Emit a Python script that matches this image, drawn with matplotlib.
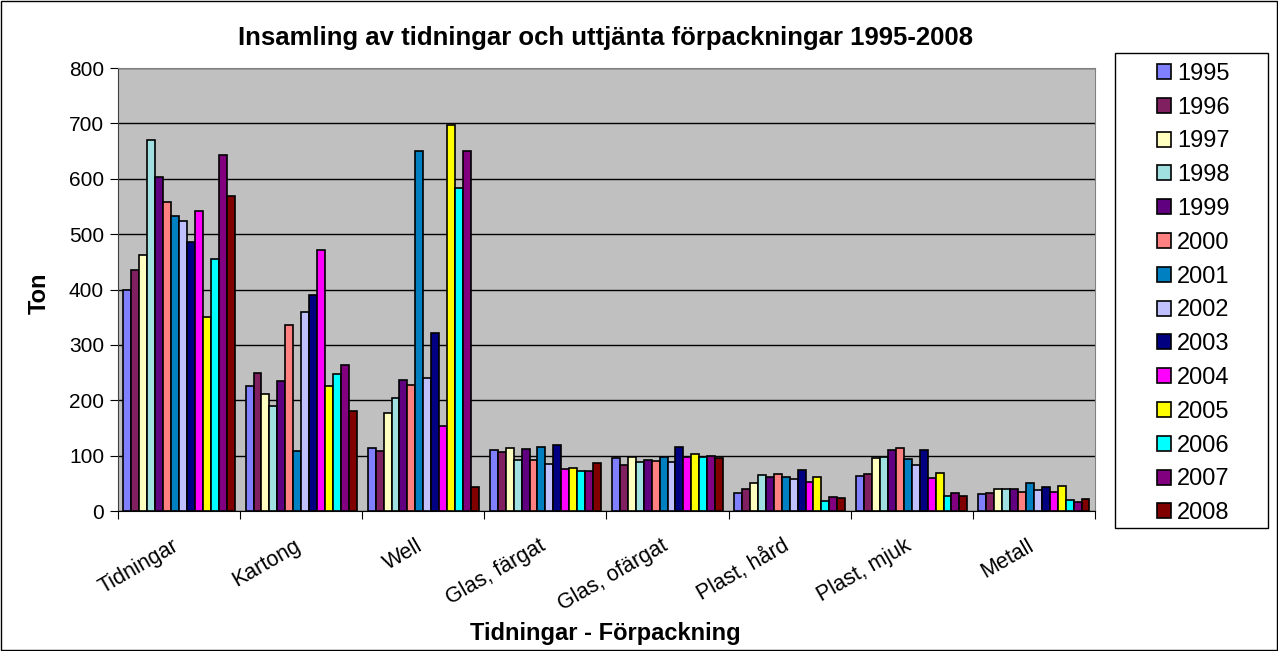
import matplotlib.pyplot as plt
import matplotlib.transforms as mtransforms
import numpy as np
from matplotlib.patches import Rectangle

plt.rcParams['font.family'] = ['Liberation Sans', 'DejaVu Sans']

categories = ['Tidningar', 'Kartong', 'Well', 'Glas, färgat', 'Glas, ofärgat',
              'Plast, hård', 'Plast, mjuk', 'Metall']
years = ['1995', '1996', '1997', '1998', '1999', '2000', '2001',
         '2002', '2003', '2004', '2005', '2006', '2007', '2008']

# tons per category, one list per year
v1995 = [400, 225, 113, 110, 95, 32, 64, 30]
v1996 = [435, 249, 109, 106, 84, 39, 67, 33]
v1997 = [463, 212, 177, 113, 97, 50, 95, 39]
v1998 = [670, 189, 204, 93, 89, 65, 97, 39]
v1999 = [604, 235, 236, 112, 92, 62, 111, 39]
v2000 = [558, 336, 227, 93, 91, 67, 113, 35]
v2001 = [532, 109, 650, 116, 98, 61, 94, 50]
v2002 = [523, 359, 240, 85, 88, 58, 83, 38]
v2003 = [485, 390, 322, 120, 116, 74, 111, 44]
v2004 = [541, 471, 154, 76, 97, 52, 59, 34]
v2005 = [351, 226, 697, 78, 103, 62, 69, 45]
v2006 = [456, 247, 584, 73, 98, 18, 27, 20]
v2007 = [643, 264, 651, 72, 100, 25, 33, 17]
v2008 = [569, 181, 43, 87, 95, 24, 27, 22]

series = [v1995, v1996, v1997, v1998, v1999, v2000, v2001,
          v2002, v2003, v2004, v2005, v2006, v2007, v2008]
colors = ['#8080FF', '#802060', '#FFFFC0', '#A0E0E0', '#600080', '#FF8080', '#0080C0',
          '#C0C0FF', '#000080', '#FF00FF', '#FFFF00', '#00FFFF', '#800080', '#800000']

fig = plt.figure(figsize=(12.78, 6.51), dpi=100)
# outer chart border
fig.patches.append(Rectangle((0.001, 0.002), 0.998, 0.996, transform=fig.transFigure,
                             fill=False, edgecolor='black', linewidth=1.0))
ax = fig.add_axes([0.0923, 0.215, 0.7645, 0.6805])
ax.set_facecolor('#C0C0C0')

x = np.arange(len(categories)) + 0.5
w = 0.065
n = len(series)
for i, (vals, c) in enumerate(zip(series, colors)):
    ax.bar(x + (i - (n - 1) / 2) * w, vals, width=w, color=c,
           edgecolor='black', linewidth=1.2, label=years[i], zorder=3)

ax.set_xlim(0, len(categories))
ax.set_ylim(0, 800)
ax.set_yticks(np.arange(0, 801, 100))
ax.yaxis.grid(True, color='black', linewidth=1.0, zorder=1)
ax.set_axisbelow(True)

ax.set_xticks(np.arange(len(categories) + 1))
ax.set_xticklabels([])
ax.set_xticks(x, minor=True)
ax.set_xticklabels(categories, minor=True, rotation=30, ha='right', va='top',
                   rotation_mode='anchor', fontsize=15.5)
ax.tick_params(axis='x', which='minor', length=0, pad=13)
ax.tick_params(axis='x', which='major', length=6, direction='out')
ax.tick_params(axis='y', labelsize=15, length=6, direction='out', pad=4)
shift = mtransforms.ScaledTranslation(-7 / 100, -6 / 100, fig.dpi_scale_trans)
for lbl in ax.get_xticklabels(minor=True):
    lbl.set_transform(lbl.get_transform() + shift)

for s in ['top', 'right']:
    ax.spines[s].set_color('#808080')
ax.spines['left'].set_color('#404040')
ax.spines['bottom'].set_color('black')

fig.text(0.474, 0.9416, 'Insamling av tidningar och uttjänta förpackningar 1995-2008',
         ha='center', va='center', fontsize=18.5, fontweight='bold')
fig.text(0.031, 0.55, 'Ton', rotation=90, ha='center', va='center',
         fontsize=17, fontweight='bold')
fig.text(0.474, 0.0276, 'Tidningar - Förpackning', ha='center', va='center',
         fontsize=17, fontweight='bold')

# legend box
fig.patches.append(Rectangle((1115 / 1278, 1 - 528 / 651), 153 / 1278, 475 / 651,
                             transform=fig.transFigure, fill=False,
                             edgecolor='black', linewidth=1.0))
leg = fig.legend(loc='center', bbox_to_anchor=(1117 / 1278, 1 - 531 / 651, 153 / 1278, 475 / 651),
                 fontsize=17, frameon=False, handlelength=0.6, handleheight=0.6,
                 handletextpad=0.25, labelspacing=0.5, borderaxespad=0)

fig.savefig('out.png', dpi=100)
